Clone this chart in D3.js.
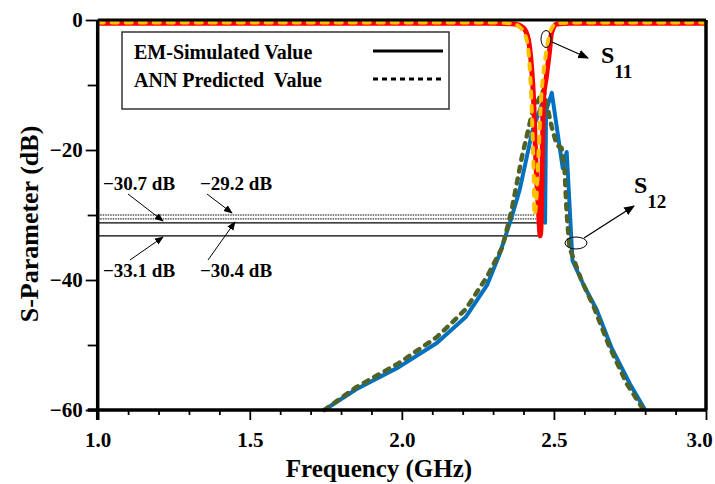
<!DOCTYPE html>
<html>
<head>
<meta charset="utf-8">
<script src="https://cdn.jsdelivr.net/npm/d3@7"></script>
<style>
  body { margin: 0; background: #fff; }
  svg { display: block; font-family: "Liberation Serif", "DejaVu Serif", serif; font-weight: bold; }
</style>
</head>
<body>
<script>
// S-parameter chart: EM simulated vs ANN predicted

const width = 715, height = 484;

// S11, EM simulated (solid)
const s11EmFreq = [1.0, 1.5, 2.0, 2.3, 2.37, 2.40, 2.416, 2.426, 2.433, 2.44, 2.45, 2.455, 2.458, 2.462, 2.466, 2.475, 2.485, 2.492, 2.51, 2.55, 3.0];
const s11EmDb   = [-0.5, -0.5, -0.5, -0.5, -0.6, -1.2, -3, -7, -12, -21, -30, -33.2, -31.2, -20, -12, -8.8, -5, -2, -0.6, -0.5, -0.5];

// S11, ANN predicted (dashed)
const s11AnnFreq = [1.0, 1.5, 2.0, 2.3, 2.36, 2.39, 2.41, 2.42, 2.428, 2.434, 2.436, 2.44, 2.45, 2.458, 2.466, 2.478, 2.49, 2.51, 2.55, 3.0];
const s11AnnDb   = [-0.4, -0.4, -0.4, -0.4, -0.5, -1.2, -3, -7, -15, -25, -30.0, -29, -20, -12, -8, -4, -1.5, -0.5, -0.4, -0.4];

// S12, EM simulated (solid)
const s12EmFreq = [1.745, 1.85, 1.99, 2.115, 2.21, 2.28, 2.32, 2.36, 2.387, 2.43, 2.46, 2.468, 2.471, 2.474, 2.493, 2.529, 2.542, 2.561, 2.60, 2.64, 2.69, 2.75, 2.80];
const s12EmDb   = [-60, -56.8, -53.4, -49.7, -45.7, -40.8, -36.2, -30.5, -26.2, -16.9, -13, -20, -31.2, -14, -11.2, -22.8, -20.3, -37, -41, -44.5, -50.5, -56, -60];

// S12, ANN predicted (dashed)
const s12AnnFreq = [1.745, 1.85, 1.99, 2.115, 2.21, 2.28, 2.33, 2.36, 2.395, 2.43, 2.466, 2.493, 2.509, 2.525, 2.535, 2.542, 2.551, 2.59, 2.63, 2.68, 2.74, 2.795];
const s12AnnDb   = [-60, -56.5, -52.8, -48.8, -44.5, -39.5, -35, -29.5, -21, -14, -10.8, -16.5, -19.2, -19.7, -23, -29.7, -35, -40, -44, -50, -56, -60];

// horizontal reference levels (dB), where they stop (GHz), and their labels
const refDb    = [-30.0, -30.6, -31.2, -33.2];
const refEnd   = [2.436, 2.442, 2.471, 2.455];
const refSolid = [false, false, true, true];
const refLabels = ["\u221230.7 dB", "\u221229.2 dB", "\u221233.1 dB", "\u221230.4 dB"];

// axis ticks
const xMajor = [1.0, 1.5, 2.0, 2.5, 3.0];
const xMinor = [1.1, 1.2, 1.3, 1.4, 1.6, 1.7, 1.8, 1.9, 2.1, 2.2, 2.3, 2.4, 2.6, 2.7, 2.8, 2.9];
const yMajor = [0, -20, -40, -60];
const yMinor = [-10, -30, -50];

const legendNames = ["EM-Simulated Value", "ANN Predicted  Value"];

const svg = d3.select("body").append("svg")
  .attr("width", width)
  .attr("height", height);

const x = d3.scaleLinear().domain([1, 3]).range([97.7, 706]);
const y = d3.scaleLinear().domain([-60, 0]).range([410, 20]);

// reference lines
refDb.forEach((v, i) => {
  svg.append("line")
    .attr("x1", x(1)).attr("x2", x(refEnd[i]))
    .attr("y1", y(v)).attr("y2", y(v))
    .attr("stroke", "#000")
    .attr("stroke-width", refSolid[i] ? 1.3 : 1)
    .attr("stroke-dasharray", refSolid[i] ? null : "1.5,1");
});

// curves
function zip(f, d) { return f.map((v, i) => [v, d[i]]); }

const lineLin = d3.line().x(d => x(d[0])).y(d => y(d[1]));
const lineSmooth = d3.line().x(d => x(d[0])).y(d => y(d[1])).curve(d3.curveMonotoneX);

svg.append("path").datum(zip(s12EmFreq, s12EmDb))
  .attr("d", lineLin).attr("fill", "none")
  .attr("stroke", "#0070C0").attr("stroke-width", 4).attr("stroke-linejoin", "round");

svg.append("path").datum(zip(s12AnnFreq, s12AnnDb))
  .attr("d", lineLin).attr("fill", "none")
  .attr("stroke", "#4F6228").attr("stroke-width", 4.5)
  .attr("stroke-dasharray", "5,7").attr("stroke-linecap", "round");

svg.append("path").datum(zip(s11EmFreq, s11EmDb))
  .attr("d", lineSmooth).attr("fill", "none")
  .attr("stroke", "#FF0000").attr("stroke-width", 5).attr("stroke-linejoin", "round");

svg.append("path").datum(zip(s11AnnFreq, s11AnnDb))
  .attr("d", lineSmooth).attr("fill", "none")
  .attr("stroke", "#FFC000").attr("stroke-width", 4)
  .attr("stroke-dasharray", "6,8").attr("stroke-linecap", "round");

// frame
svg.append("line").attr("x1", x(1)).attr("x2", x(3)).attr("y1", y(0)).attr("y2", y(0))
  .attr("stroke", "#000").attr("stroke-width", 3);
svg.append("line").attr("x1", x(3)).attr("x2", x(3)).attr("y1", y(0)).attr("y2", y(-60))
  .attr("stroke", "#000").attr("stroke-width", 3.5);
svg.append("line").attr("x1", x(1)).attr("x2", x(1)).attr("y1", y(0)).attr("y2", y(-60) + 10)
  .attr("stroke", "#000").attr("stroke-width", 3.5);
svg.append("line").attr("x1", x(1) - 10).attr("x2", x(3)).attr("y1", y(-60)).attr("y2", y(-60))
  .attr("stroke", "#000").attr("stroke-width", 3.5);

// axes
const yAxis = svg.append("g").attr("transform", `translate(${x(1)},0)`)
  .call(d3.axisLeft(y).tickValues(yMajor).tickSize(12).tickPadding(3).tickFormat(d3.format("d")));
const yAxisMinor = svg.append("g").attr("transform", `translate(${x(1)},0)`)
  .call(d3.axisLeft(y).tickValues(yMinor).tickSize(10).tickFormat(""));
const xAxis = svg.append("g").attr("transform", `translate(0,${y(-60)})`)
  .call(d3.axisBottom(x).tickValues(xMajor).tickSize(10).tickPadding(12).tickFormat(d3.format(".1f")));
const xAxisMinor = svg.append("g").attr("transform", `translate(0,${y(-60)})`)
  .call(d3.axisBottom(x).tickValues(xMinor).tickSize(5).tickFormat(""));

[yAxis, yAxisMinor, xAxis, xAxisMinor].forEach(a => {
  a.select(".domain").remove();
  a.selectAll(".tick line").attr("stroke", "#000").attr("stroke-width", 1.8);
  a.selectAll("text")
    .style("font-family", "Liberation Serif, serif")
    .style("font-weight", "bold")
    .style("font-size", "21px")
    .attr("fill", "#000");
});
// last x label sits against the page edge
xAxis.selectAll(".tick text").filter(d => d === 3).attr("dx", -7);

// axis titles
svg.append("text")
  .attr("x", 379).attr("y", 477)
  .attr("text-anchor", "middle")
  .style("font-size", "25px")
  .text("Frequency (GHz)");

svg.append("text")
  .attr("transform", "translate(38,224) rotate(-90)")
  .attr("text-anchor", "middle")
  .style("font-size", "26px")
  .text("S-Parameter (dB)");

// legend
svg.append("rect")
  .attr("x", 122).attr("y", 32).attr("width", 327).attr("height", 77)
  .attr("fill", "#fff").attr("stroke", "#333").attr("stroke-width", 1.5);
legendNames.forEach((name, i) => {
  const yy = 59 + i * 28;
  svg.append("text").attr("x", 134).attr("y", yy)
    .style("font-size", "20px").style("white-space", "pre").text(name);
  svg.append("line")
    .attr("x1", 373).attr("x2", 443)
    .attr("y1", yy - 8).attr("y2", yy - 8)
    .attr("stroke", "#000").attr("stroke-width", 3)
    .attr("stroke-dasharray", i === 0 ? null : "5,4");
});

// level annotations
const labelPos = [[103, 190], [200, 190], [103, 277], [200, 277]];
const arrowPts = [[[128, 194], [163, 221]], [[207, 194], [232, 213]],
                  [[130, 260], [163, 237]], [[208, 260], [235, 222]]];

const defs = svg.append("defs");
defs.append("marker")
  .attr("id", "arrow").attr("viewBox", "0 0 10 10")
  .attr("refX", 9).attr("refY", 5)
  .attr("markerWidth", 9).attr("markerHeight", 9)
  .attr("orient", "auto")
  .append("path").attr("d", "M0,1 L10,5 L0,9 z").attr("fill", "#000");

refLabels.forEach((t, i) => {
  svg.append("text").attr("x", labelPos[i][0]).attr("y", labelPos[i][1])
    .style("font-size", "19px").text(t);
  svg.append("line")
    .attr("x1", arrowPts[i][0][0]).attr("y1", arrowPts[i][0][1])
    .attr("x2", arrowPts[i][1][0]).attr("y2", arrowPts[i][1][1])
    .attr("stroke", "#000").attr("stroke-width", 1)
    .attr("marker-end", "url(#arrow)");
});

// S11 / S12 callouts
function callout(cx, cy, rx, ry, from, to, tx, ty, sub) {
  svg.append("ellipse").attr("cx", cx).attr("cy", cy).attr("rx", rx).attr("ry", ry)
    .attr("fill", "none").attr("stroke", "#000").attr("stroke-width", 1);
  svg.append("line").attr("x1", from[0]).attr("y1", from[1]).attr("x2", to[0]).attr("y2", to[1])
    .attr("stroke", "#000").attr("stroke-width", 1.2).attr("marker-end", "url(#arrow)");
  const t = svg.append("text").attr("x", tx).attr("y", ty).style("font-size", "24px");
  t.append("tspan").text("S");
  t.append("tspan").attr("dy", 15).style("font-size", "19px").text(sub);
}
callout(546, 39, 5, 8.5, [552, 42], [588, 58], 601, 63, "11");
callout(576, 243, 11, 6, [584, 238], [634, 206], 634, 193, "12");
</script>
</body>
</html>
